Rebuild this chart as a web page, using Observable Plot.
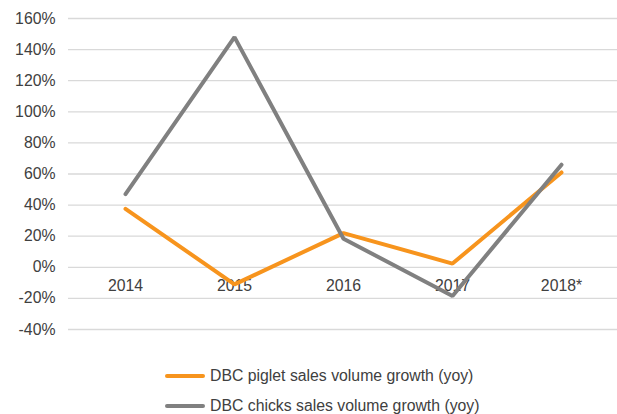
<!DOCTYPE html>
<html>
<head>
<meta charset="utf-8">
<script src="https://cdn.jsdelivr.net/npm/d3@7"></script>
<script src="https://cdn.jsdelivr.net/npm/@observablehq/plot@0.6"></script>
<style>
  html, body { margin: 0; padding: 0; background: #fff; }
  body { width: 617px; height: 414px; position: relative; overflow: hidden;
         font-family: "Liberation Sans", Arial, sans-serif; }
  #chart svg { display: block; }
  .legend { position: absolute; left: 165px; font-size: 15.8px; color: #404040; }
  .legend .row { position: absolute; left: 0; white-space: nowrap; display: flex; align-items: center; height: 20px; }
  .legend .sw { width: 40px; height: 4px; border-radius: 2px; margin-right: 5px; }
</style>
</head>
<body>
<div id="chart"></div>
<div class="legend" id="legend"></div>
<script>
const years = ["2014", "2015", "2016", "2017", "2018*"];
const pigletGrowth = [0.376, -0.11, 0.22, 0.024, 0.61];
const chicksGrowth = [0.47, 1.48, 0.184, -0.185, 0.66];
const seriesNames = ["DBC piglet sales volume growth (yoy)", "DBC chicks sales volume growth (yoy)"];
const seriesColors = ["#F7941D", "#808080"];
const yTicks = [-0.4, -0.2, 0, 0.2, 0.4, 0.6, 0.8, 1.0, 1.2, 1.4, 1.6];

const rows = [];
years.forEach((y, i) => {
  rows.push({year: y, value: pigletGrowth[i], series: seriesNames[0]});
});
years.forEach((y, i) => {
  rows.push({year: y, value: chicksGrowth[i], series: seriesNames[1]});
});

const pct = d => Math.round(d * 100) + "%";

const chart = Plot.plot({
  width: 617,
  height: 345,
  marginTop: 18,
  marginBottom: 16,
  marginLeft: 68,
  marginRight: 0,
  style: {fontFamily: '"Liberation Sans", Arial, sans-serif', fontSize: "15.8px", color: "#404040", background: "#fff"},
  x: {type: "point", domain: years, padding: 0.5, axis: null},
  y: {domain: [-0.4, 1.6], ticks: yTicks, tickFormat: pct, tickSize: 0, tickPadding: 13, label: null},
  color: {domain: seriesNames, range: seriesColors},
  marks: [
    Plot.gridY(yTicks, {stroke: "#d9d9d9", strokeOpacity: 1, strokeWidth: 1.3}),
    Plot.axisY({ticks: yTicks, tickFormat: pct, tickSize: 0, tickPadding: 13, label: null, fill: "#404040"}),
    Plot.text(years, {x: d => d, y: () => 0, dy: 19, text: d => d, fill: "#404040", fontSize: 15.8}),
    Plot.line(rows, {x: "year", y: "value", z: "series", stroke: "series", strokeWidth: 4, strokeLinejoin: "miter", strokeLinecap: "round"})
  ]
});
document.getElementById("chart").appendChild(chart);

const legend = document.getElementById("legend");
legend.style.top = "0px";
const tops = [366, 396];
seriesNames.forEach((name, i) => {
  const row = document.createElement("div");
  row.className = "row";
  row.style.top = tops[i] + "px";
  const sw = document.createElement("div");
  sw.className = "sw";
  sw.style.background = seriesColors[i];
  const tx = document.createElement("span");
  tx.textContent = name;
  row.appendChild(sw);
  row.appendChild(tx);
  legend.appendChild(row);
});
</script>
</body>
</html>
